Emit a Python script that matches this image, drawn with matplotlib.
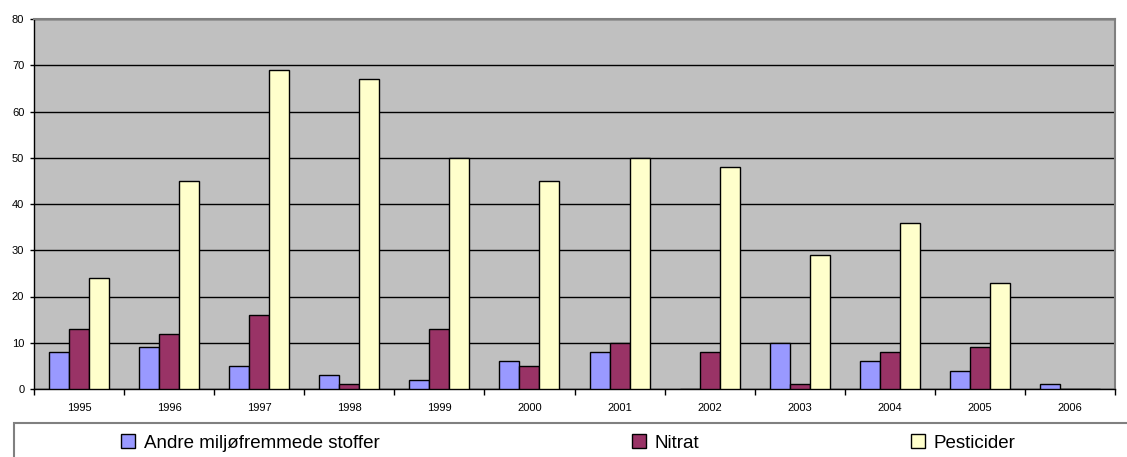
import matplotlib.pyplot as plt
import matplotlib.patches as mpatches
import numpy as np

years = ["1995", "1996", "1997", "1998", "1999", "2000",
         "2001", "2002", "2003", "2004", "2005", "2006"]
andre = [8, 9, 5, 3, 2, 6, 8, 0, 10, 6, 4, 1]
nitrat = [13, 12, 16, 1, 13, 5, 10, 8, 1, 8, 9, 0]
pesticider = [24, 45, 69, 67, 50, 45, 50, 48, 29, 36, 23, 0]

labels = ["Andre miljøfremmede stoffer", "Nitrat", "Pesticider"]
colors = ["#9999FF", "#993366", "#FFFFCC"]

plt.rcParams["font.family"] = ["Liberation Sans", "DejaVu Sans"]

fig = plt.figure(figsize=(11.27, 4.57), dpi=100)
ax = fig.add_axes([34 / 1127, 68 / 457, (1115 - 34) / 1127, (389 - 19) / 457])
ax.set_facecolor("#C0C0C0")

x = np.arange(len(years))
w = 0.222
bars = []
for i, (vals, c) in enumerate(zip([andre, nitrat, pesticider], colors)):
    b = ax.bar(x + (i - 1) * w, vals, width=w, color=c,
               edgecolor="black", linewidth=1.0, zorder=3, label=labels[i])
    bars.append(b)

ax.set_xlim(-0.5, len(years) - 0.5)
ax.set_ylim(0, 80)
ax.set_yticks(range(0, 81, 10))
ax.yaxis.grid(True, color="black", linewidth=1.0, zorder=1)
ax.set_axisbelow(True)

ax.set_xticks(x)
ax.set_xticklabels(years, fontsize=8)
ax.set_xticks(np.arange(-0.5, len(years)), minor=True)
ax.tick_params(axis="x", which="major", length=0, pad=10)
ax.tick_params(axis="x", which="minor", length=4, width=1, direction="out")
ax.tick_params(axis="y", labelsize=8, length=3, width=1, pad=4)

for s in ["left", "bottom"]:
    ax.spines[s].set_color("black")
    ax.spines[s].set_linewidth(1.0)
for s in ["top", "right"]:
    ax.spines[s].set_color("#808080")
    ax.spines[s].set_linewidth(1.5)

# legend box running off the bottom/right edge
box = mpatches.Rectangle((14 / 1127, -0.1), 1.2, (457 - 423) / 457 + 0.1,
                         transform=fig.transFigure, facecolor="white",
                         edgecolor="#808080", linewidth=1.5, clip_on=False)
fig.patches.append(box)

# one legend entry per series, placed like the Excel legend
leg_x = [121, 632, 911]
for b, lab, lx in zip(bars, labels, leg_x):
    leg = fig.legend(handles=[b], labels=[lab], loc="center left",
                     bbox_to_anchor=(lx / 1127, (457 - 443) / 457),
                     frameon=False, fontsize=13.5,
                     handlelength=0.75, handleheight=0.75, handletextpad=0.45,
                     borderaxespad=0, borderpad=0)

fig.savefig("out.png", dpi=100)
